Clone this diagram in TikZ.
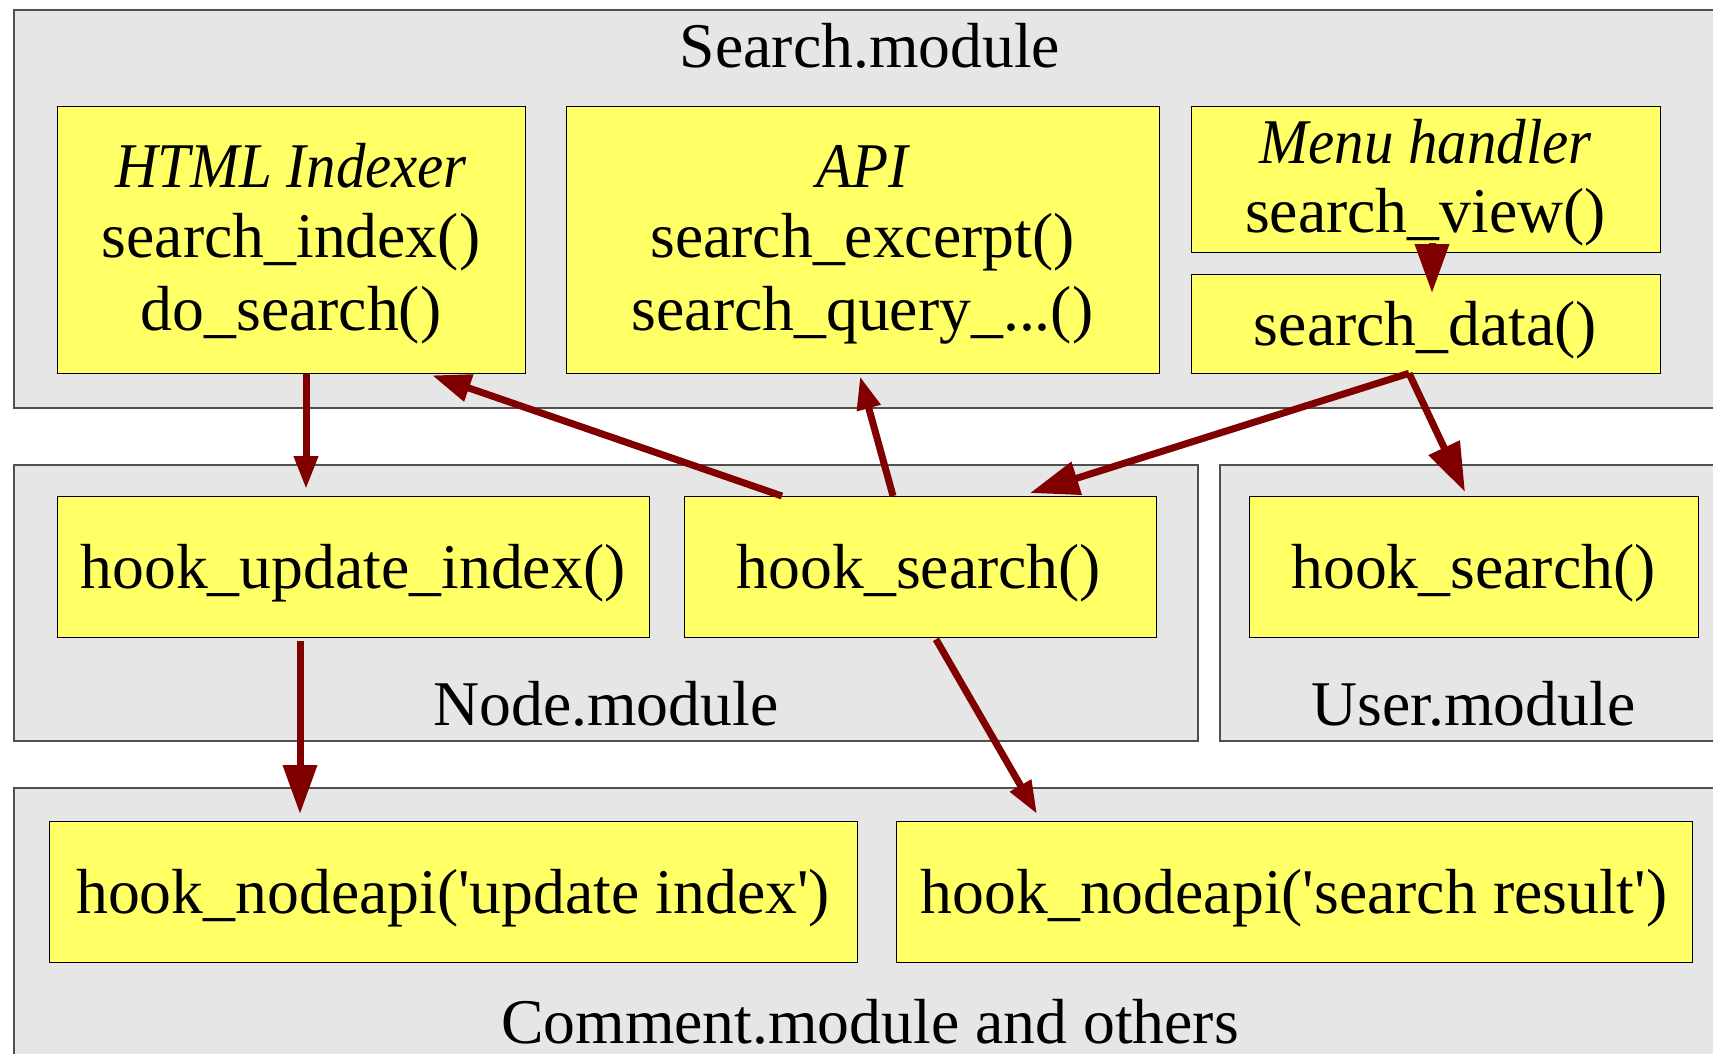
\documentclass[tikz,border=0pt]{standalone}
\usepackage{fontspec}
\setmainfont{Liberation Serif}
\usetikzlibrary{arrows.meta,calc}
\definecolor{modfill}{HTML}{E6E6E6}
\definecolor{modline}{HTML}{505050}
\definecolor{fnfill}{HTML}{FFFF66}
\definecolor{flow}{HTML}{800000}
% narrow italic headings inside the function boxes
\newcommand{\boxhead}[1]{\scalebox{0.925}[1]{\itshape #1}}
\newcommand{\sq}{\textquotesingle}
\begin{document}
\begin{tikzpicture}[x=1pt,y=-1pt,
  module/.style={draw=modline, fill=modfill, line width=1.5pt, anchor=north west, inner sep=0pt},
  fnbox/.style={draw=black, fill=fnfill, line width=1.3pt, anchor=north west, inner sep=0pt},
  lbl/.style={anchor=base, inner sep=0pt, font=\fontsize{63.7}{72}\selectfont},
  flowarrow/.style={draw=flow, line width=7pt},
  tipS/.style={-{Triangle[width=23pt,length=33pt]}},
  tipM/.style={-{Triangle[width=27pt,length=39pt]}},
  tipL/.style={-{Triangle[width=33pt,length=49pt]}},
]
\useasboundingbox (0,0) rectangle (1713,1053);
\clip (0,0) rectangle (1713,1053);

% module containers
\node[module, minimum width=1714pt, minimum height=398pt] (search) at (13,9) {};
\node[module, minimum width=1184pt, minimum height=276pt] (nodemod) at (13,464) {};
\node[module, minimum width=508pt, minimum height=276pt] (usermod) at (1219,464) {};
\node[module, minimum width=1714pt, minimum height=300pt] (others) at (13,787) {};

% function boxes
\node[fnbox, minimum width=468pt, minimum height=267pt] (html) at (57,106) {};
\node[fnbox, minimum width=593pt, minimum height=267pt] (api) at (566,106) {};
\node[fnbox, minimum width=469pt, minimum height=146pt] (menu) at (1191,106) {};
\node[fnbox, minimum width=469pt, minimum height=99pt] (sdata) at (1191,274) {};
\node[fnbox, minimum width=592pt, minimum height=141pt] (hui) at (57,496) {};
\node[fnbox, minimum width=472pt, minimum height=141pt] (hsn) at (684,496) {};
\node[fnbox, minimum width=449pt, minimum height=141pt] (hsu) at (1249,496) {};
\node[fnbox, minimum width=808pt, minimum height=141pt] (nupd) at (49,821) {};
\node[fnbox, minimum width=796pt, minimum height=141pt] (nres) at (896,821) {};

% texts
\node[lbl] (tsearch) at (870,67) {Search.module};
\node[lbl] (thtml1) at (291,187) {\boxhead{HTML Indexer}};
\node[lbl] (thtml2) at (291,257) {search\_index()};
\node[lbl] (thtml3) at (291,330) {do\_search()};
\node[lbl] (tapi1) at (862.5,187) {\boxhead{API}};
\node[lbl] (tapi2) at (862.5,257) {search\_excerpt()};
\node[lbl] (tapi3) at (862.5,330) {search\_query\_...()};
\node[lbl] (tmenu1) at (1425.5,163) {\boxhead{Menu handler}};
\node[lbl] (tmenu2) at (1425.5,232) {search\_view()};
\node[lbl] (tsdata) at (1425.5,345) {search\_data()};
\node[lbl] (thui) at (353,588) {hook\_update\_index()};
\node[lbl] (thsn) at (919,588) {hook\_search()};
\node[lbl] (thsu) at (1473.5,588) {hook\_search()};
\node[lbl] (tnode) at (606,725) {Node.module};
\node[lbl] (tuser) at (1473.5,725) {User.module};
\node[lbl] (tnupd) at (453,913) {hook\_nodeapi(\sq update index\sq)};
\node[lbl] (tnres) at (1294,913) {hook\_nodeapi(\sq search result\sq)};
\node[lbl] (tothers) at (870,1043) {Comment.module and others};

% call flow
\draw[flowarrow, tipS] ($(html.south west)+(249,0)$) -- ($(hui.north west)+(249,-7)$);
\draw[flowarrow, tipL] ($(hui.south west)+(243,3)$) -- ($(nupd.north west)+(251,-7)$);
\draw[flowarrow, tipM] ($(hsn.north west)+(98,0)$) -- ($(html.south west)+(375,1)$);
\draw[flowarrow, tipS] ($(hsn.north west)+(209,0)$) -- ($(api.south west)+(294,2)$);
\draw[flowarrow, tipL] ($(sdata.south west)+(218,-1)$) -- ($(hsn.north west)+(346,-3)$);
\draw[flowarrow, tipL] ($(sdata.south west)+(218,-1)$) -- ($(hsu.north west)+(216,-4)$);
\draw[flowarrow, tipL] ($(menu.south west)+(241,-10)$) -- ($(sdata.north west)+(241,19)$);
\draw[flowarrow, tipS] ($(hsn.south west)+(252,1)$) -- ($(nres.north west)+(141,-7)$);
\end{tikzpicture}
\end{document}
